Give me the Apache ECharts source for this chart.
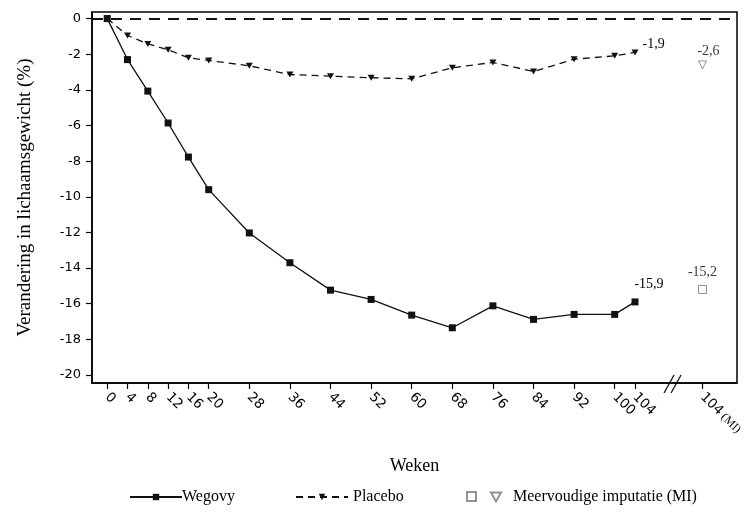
<!DOCTYPE html>
<html>
<head>
<meta charset="utf-8">
<script src="https://cdn.jsdelivr.net/npm/echarts@6/dist/echarts.min.js"></script>
<style>html,body{margin:0;padding:0;background:#fff}#c{width:756px;height:518px}</style>
</head>
<body>
<div id="c"></div>
<script>
const weeks = [0, 4, 8, 12, 16, 20, 28, 36, 44, 52, 60, 68, 76, 84, 92, 100, 104];
const wegovy = [0, -2.3, -4.07, -5.86, -7.77, -9.6, -12.03, -13.7, -15.24, -15.76, -16.64, -17.35, -16.12, -16.88, -16.6, -16.6, -15.9];
const placebo = [0, -0.95, -1.42, -1.75, -2.2, -2.35, -2.65, -3.14, -3.23, -3.32, -3.38, -2.76, -2.46, -2.97, -2.28, -2.09, -1.9];
const miWegovy = -15.2;
const miPlacebo = -2.6;
const yTicks = [0, -2, -4, -6, -8, -10, -12, -14, -16, -18, -20];
const miLabel = '104 (MI)';

// layout constants
const MI_X = 117.3;
const BREAK_X = 111.3;
const X_MIN = -3.0, X_MAX = 124.1;
const Y_MIN = -20.45, Y_MAX = 0.37;

const fmt = v => String(v).replace('.', ',');
const downTri = 'path://M0,0 L10,0 L5,9 Z';
const serif = '"Liberation Serif", "Times New Roman", serif';
const sans = '"DejaVu Sans", sans-serif';

const chart = echarts.init(document.getElementById('c'));
const xTicks = weeks.concat([MI_X]);

const option = {
  backgroundColor: '#fff',
  animation: false,
  grid: { left: 92, right: 19, top: 12, bottom: 135, show: true, borderColor: '#000', borderWidth: 1.5, backgroundColor: 'transparent' },
  xAxis: {
    type: 'value', min: X_MIN, max: X_MAX,
    name: 'Weken', nameLocation: 'middle', nameGap: 74,
    nameTextStyle: { fontFamily: serif, fontSize: 18, color: '#000' },
    axisLine: { show: true, onZero: false, lineStyle: { color: '#000', width: 1.5 } },
    axisTick: { show: true, inside: false, length: 6, lineStyle: { color: '#000', width: 1.2 }, customValues: xTicks },
    splitLine: { show: false },
    axisLabel: {
      customValues: xTicks, rotate: -45, margin: 12,
      fontFamily: sans, fontSize: 13.5, color: '#000',
      formatter: v => (Math.abs(v - MI_X) < 1e-6 ? '{a|104}{b| (MI)}' : String(v)),
      rich: { a: { fontFamily: sans, fontSize: 13.5, color: '#000' }, b: { fontFamily: serif, fontSize: 12, color: '#000' } }
    }
  },
  yAxis: {
    type: 'value', min: Y_MIN, max: Y_MAX,
    name: 'Verandering in lichaamsgewicht (%)', nameLocation: 'middle', nameGap: 57,
    nameTextStyle: { fontFamily: serif, fontSize: 19, color: '#000' },
    axisLine: { show: true, onZero: false, lineStyle: { color: '#000', width: 1.5 } },
    axisTick: { show: true, length: 6, lineStyle: { color: '#000', width: 1.2 }, customValues: yTicks },
    splitLine: { show: false },
    axisLabel: { customValues: yTicks, fontFamily: sans, fontSize: 13, color: '#000', margin: 11 }
  },
  legend: [
    { data: ['Wegovy'], left: 124, top: 484, itemWidth: 52, itemHeight: 8, itemGap: 0,
      textStyle: { fontFamily: serif, fontSize: 16, color: '#000', padding: [0, 0, 0, -5] } },
    { data: ['Placebo'], left: 290, top: 484, itemWidth: 52, itemHeight: 8,
      textStyle: { fontFamily: serif, fontSize: 16, color: '#000' } },
    { data: ['MIsq'], left: 461, top: 486, itemWidth: 9, itemHeight: 9, formatter: () => '',
      textStyle: { fontSize: 1 } },
    { data: ['Meervoudige imputatie (MI)'], left: 485, top: 484, itemWidth: 10, itemHeight: 9,
      textStyle: { fontFamily: serif, fontSize: 16, color: '#000', padding: [0, 0, 0, 7] } }
  ],
  series: [
    {
      name: 'Wegovy', type: 'line',
      data: weeks.map((w, i) => [w, wegovy[i]]),
      symbol: 'rect', symbolSize: 7,
      itemStyle: { color: '#111' },
      lineStyle: { color: '#111', width: 1.3 },
      z: 3,
      label: {
        show: true, position: 'top', distance: 5, fontFamily: serif, fontSize: 14, color: '#000',
        formatter: p => (p.dataIndex === weeks.length - 1 ? fmt(p.value[1]) : ''), offset: [14, -2]
      },
      markLine: {
        silent: true, symbol: 'none', label: { show: false },
        lineStyle: { color: '#111', type: [11, 8], width: 2 },
        data: [{ yAxis: 0 }]
      }
    },
    {
      name: 'Placebo', type: 'line',
      data: weeks.map((w, i) => [w, placebo[i]]),
      symbol: downTri, symbolSize: [7, 6],
      itemStyle: { color: '#111' },
      lineStyle: { color: '#111', width: 1.3, type: [7, 5] },
      z: 2,
      label: {
        show: true, position: 'right', distance: 4, fontFamily: serif, fontSize: 14, color: '#000',
        formatter: p => (p.dataIndex === weeks.length - 1 ? fmt(p.value[1]) : ''), offset: [0, -8]
      }
    },
    {
      name: 'MIsq', type: 'scatter',
      data: [[MI_X, miWegovy]],
      symbol: 'rect', symbolSize: 8,
      itemStyle: { color: '#fff', borderColor: '#777', borderWidth: 1 },
      label: { show: true, position: 'top', distance: 6, fontFamily: serif, fontSize: 14, color: '#000', formatter: p => fmt(p.value[1]) }
    },
    {
      name: 'Meervoudige imputatie (MI)', type: 'scatter',
      data: [[MI_X, miPlacebo]],
      symbol: downTri, symbolSize: [8, 8],
      itemStyle: { color: '#fff', borderColor: '#777', borderWidth: 1 },
      label: { show: true, position: 'top', distance: 2, fontFamily: serif, fontSize: 14, color: '#000', offset: [6, 0], formatter: p => fmt(p.value[1]) }
    }
  ]
};
chart.setOption(option);

// axis break marks "//"
const p = chart.convertToPixel({ gridIndex: 0 }, [BREAK_X, Y_MIN]);
chart.setOption({
  graphic: [
    { type: 'line', shape: { x1: p[0] - 8, y1: p[1] + 10, x2: p[0] + 2, y2: p[1] - 8 }, style: { stroke: '#111', lineWidth: 1.3 }, z: 10 },
    { type: 'line', shape: { x1: p[0] - 1, y1: p[1] + 10, x2: p[0] + 9, y2: p[1] - 8 }, style: { stroke: '#111', lineWidth: 1.3 }, z: 10 }
  ]
});
</script>
</body>
</html>
